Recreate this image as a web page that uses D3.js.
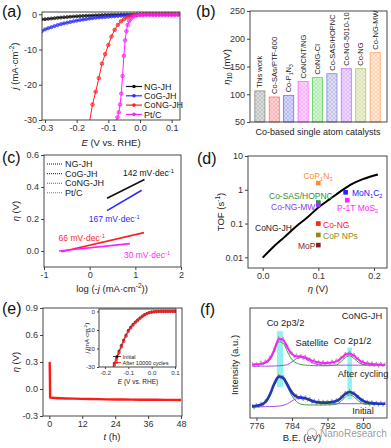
<!DOCTYPE html>
<meta charset="utf-8">
<style>
body { margin: 0; background: #fff; }
svg { font-family: "Liberation Sans", Arial, sans-serif; }
.axis path.domain { display: none; }
.axis line { stroke: #444; }
.axis text { fill: #333; }
</style>
<body>
<script src="https://d3js.org/d3.v7.min.js"></script>
<script>
// ---------- (a) LSV polarization curves ----------
var lsvE = [-0.31,-0.30,-0.29,-0.28,-0.27,-0.26,-0.25,-0.24,-0.23,-0.22,-0.21,-0.20,-0.19,-0.18,-0.17,-0.16,-0.15,-0.14,-0.13,-0.12,-0.11,-0.10,-0.09,-0.08,-0.07,-0.06,-0.05,-0.04,-0.03,-0.02,-0.01,0.00,0.01,0.02,0.03,0.04,0.05,0.06,0.07,0.08,0.09,0.10,0.11,0.12];
var jNG = [-1.45,-1.4,-1.3,-1.2,-1.1,-1.0,-0.93,-0.85,-0.78,-0.7,-0.64,-0.58,-0.52,-0.47,-0.42,-0.38,-0.34,-0.3,-0.26,-0.23,-0.2,-0.17,-0.14,-0.12,-0.1,-0.08,-0.06,-0.05,-0.04,-0.03,-0.02,-0.01,0,0,0,0,0,0,0,0,0,0,0,0];
var jCoG = [-4.8,-4.3,-3.95,-3.65,-3.35,-3.05,-2.8,-2.58,-2.38,-2.18,-1.98,-1.8,-1.65,-1.5,-1.36,-1.22,-1.1,-1.0,-0.92,-0.84,-0.77,-0.7,-0.62,-0.55,-0.48,-0.41,-0.35,-0.28,-0.21,-0.15,-0.1,-0.06,-0.03,0,0,0,0,0,0,0,0,0,0,0];
var eCoNG = [-0.16,-0.15,-0.14,-0.13,-0.12,-0.11,-0.10,-0.09,-0.08,-0.07,-0.06,-0.05,-0.04,-0.03,-0.02,-0.01,0.00,0.01,0.02,0.03,0.04,0.05,0.06,0.07,0.08,0.09,0.10,0.11,0.12];
var jCoNG = [-30.8,-25.6,-22,-18.1,-14,-11.3,-8.7,-6.3,-4.4,-3.0,-2.0,-1.35,-0.85,-0.5,-0.28,-0.14,-0.07,-0.03,0,0,0,0,0,0,0,0,0,0,0];
var ePt = [-0.075,-0.071,-0.067,-0.063,-0.059,-0.055,-0.051,-0.047,-0.043,-0.039,-0.034,-0.028,-0.02,-0.01,0.00,0.01,0.02,0.03,0.04,0.05,0.06,0.07,0.08,0.09,0.10,0.11,0.12];
var jPt = [-30.5,-29.2,-27.8,-25.6,-22.5,-17.5,-11.8,-7.4,-4.8,-3.0,-1.9,-1.2,-0.65,-0.35,-0.2,-0.15,-0.15,-0.15,-0.15,-0.15,-0.15,-0.15,-0.15,-0.15,-0.15,-0.15,-0.15];
var lsvNames = ["NG-JH", "CoG-JH", "CoNG-JH", "Pt/C"];
var lsvColors = ["#111111", "#2b2bff", "#ff1f1f", "#ff1fff"];

// ---------- (b) overpotential at 10 mA cm-2 ----------
var catalysts = ["This work", "Co-SAs/PTF-600", "Co-P1N3", "CoNCNT/NG", "CoNG-Cl", "Co-SAS/HOPNC", "Co-NG-5010-10", "Co-NG", "Co-NG-MW"];
var eta10 = [106, 95, 98, 123, 130, 137, 146, 146, 175];
var barStroke = ["#8a8a8a", "#ff7373", "#7373ff", "#ff66ff", "#5fd35f", "#8585d6", "#c070ff", "#b2c070", "#ffa366"];
var barFill = ["#dcdcdc", "#fbd3d3", "#d8d8fb", "#fbd3fb", "#d5f5d5", "#dedef5", "#eed9ff", "#eff1d9", "#ffe8d6"];

// ---------- (c) Tafel slopes ----------
var tafelLogJ = [[0.38, 1.2], [0.38, 1.14], [-0.62, 1.19], [-0.67, 0.88]];
var tafelEta = [[0.33, 0.447], [0.252, 0.38], [-0.005, 0.115], [0.0, 0.046]];
var tafelSlopes = [142, 167, 66, 30];

// ---------- (d) TOF ----------
var tofEta = [0, 0.02, 0.04, 0.06, 0.08, 0.10, 0.12, 0.14, 0.16, 0.18, 0.207];
var tofVal = [0.0098, 0.021, 0.041, 0.082, 0.15, 0.30, 0.52, 0.9, 1.47, 2.07, 2.85];
var refNames = ["CoP1N3", "Co-SAS/HOPNC", "Co-NG-MW", "MoN1C2", "P-1T MoS2", "Co-NG", "CoP NPs", "MoP"];
var refEta = [0.1, 0.1, 0.1, 0.149, 0.152, 0.1, 0.1, 0.1];
var refTof = [1.58, 0.42, 0.355, 0.84, 0.49, 0.1, 0.046, 0.023];
var refColors = ["#ff8c2a", "#2f8f2f", "#8a3cf0", "#2020ff", "#ff1fff", "#ff2020", "#8c8c16", "#8a1c1c"];

// ---------- (e) stability ----------
var stabT = [0, 0.15, 0.3, 1, 2, 4, 6, 9, 12, 15, 18, 21, 24, 27, 30, 33, 36, 39, 42, 45, 48];
var stabEta = [0.3, 0.29, -0.095, -0.098, -0.1, -0.103, -0.105, -0.107, -0.11, -0.111, -0.113, -0.115, -0.117, -0.117, -0.118, -0.119, -0.12, -0.12, -0.121, -0.121, -0.122];
var insetE = [-0.17,-0.16,-0.15,-0.14,-0.13,-0.12,-0.11,-0.10,-0.09,-0.08,-0.07,-0.06,-0.05,-0.04,-0.03,-0.02,-0.01,0.00,0.01,0.02,0.03,0.04,0.05,0.06,0.07,0.08,0.09,0.10];
var insetInit = [-32,-28,-24.8,-21.5,-18.4,-15.5,-12.8,-10.2,-8.5,-7.0,-5.7,-4.6,-3.5,-2.5,-1.7,-1.1,-0.6,-0.35,-0.18,-0.08,-0.03,0,0,0,0,0,0,0];
var insetAfter = [-33,-29,-25.8,-22.4,-19.2,-16.2,-13.4,-10.8,-9.0,-7.4,-6.0,-4.9,-3.8,-2.7,-1.85,-1.2,-0.65,-0.38,-0.2,-0.09,-0.04,0,0,0,0,0,0,0];

// ---------- (f) XPS Co 2p ----------
var fitE = [775,776,777,778,779,780,781,782,783,784,785,786,787,788,789,790,791,792,793,794,795,796,797,798,799,800,801,802,803,804,805];
var fitAfter = [48.6,48.8,49.2,50.5,54,62,71.5,71,64,58,56,56,55,53,51.5,50.5,50,50,50.5,51.5,54,57.5,58.5,56.5,53,50.5,49.5,49,48.7,48.5,48.3];
var greenAfter = [48.5,48.6,48.9,49.8,52.5,60,69,68,60,53,50,48.6,48,47.8,47.6,47.5,47.5,47.5,47.7,48.2,51,55,56.5,54,50.5,48.7,48.2,48,48,48,48];
var purpleAfter = [47,47,47.1,47.1,47.2,47.3,47.5,47.9,48.5,51,54,55,54,51.5,49.5,48.5,48.1,48,48,48,48,48,48,48,48,48,48,48,48,48,48];
var fitInit = [10.6,11,12,14.5,21,31,37.5,36.5,30,23,19.5,18.5,18,16.5,15,14.3,14,14,14.5,15.5,18,22,23.6,22,18.5,15.5,14,13.5,13.2,13,13];
var greenInit = [10.5,10.8,11.5,14,20.5,30.5,37,35.5,28,20,15,12.5,12,11.9,11.8,11.8,11.8,11.9,12.1,12.5,15,19,21,19,15.5,13,12.5,12.4,12.3,12.3,12.3];
var purpleInit = [10,10.1,10.2,10.3,10.4,10.5,10.8,11.5,13,15.5,17.5,18,17.5,15.5,14,13.2,13,13,13,13,13,13,13,13,13,13,13,13,13,13,13];
var rawE = [775,775.5,776,776.5,777,777.5,778,778.5,779,779.5,780,780.5,781,781.5,782,782.5,783,783.5,784,784.5,785,785.5,786,786.5,787,787.5,788,788.5,789,789.5,790,790.5,791,791.5,792,792.5,793,793.5,794,794.5,795,795.5,796,796.5,797,797.5,798,798.5,799,799.5,800,800.5,801,801.5,802,802.5,803,803.5,804,804.5,805];
var rawAfter = [51,46.5,50.5,47,52,48,53,50,56.5,56,64.5,65,74,70,73.5,65,66,58.5,60.5,54.5,58.5,53.5,58,53,57.5,51.5,55,49.5,54,48.5,52.5,48,52.5,47.5,52,48,53,49,54,50.5,56.5,54,60,56,61,55.5,59,52.5,55.5,49,53,47.5,52,47,51.5,46.5,51,46,51,46.5,50.5];
var rawInit = [13,8,13.5,9,14.5,10.5,17,15,23.5,24,33.5,32.5,40,35,39,31,32.5,24,25.5,18.5,22,16.5,21,15.5,20.5,15,19,13,17.5,12,17,11.5,16.5,12,16.5,11.5,17,12.5,18,14.5,20.5,18,24.5,20.5,26,20.5,24.5,18,21,14.5,18,12,16.5,11,16,11,15.5,10.5,15.5,10.5,15];
var highlightE = [[780.6, 782.0], [796.5, 797.5]];
var highlightV = [[28, 79], [17, 64]];

var svg = d3.select("body").append("svg")
    .attr("width", 391)
    .attr("height", 448);
var defs = svg.append("defs");

function fmt(spec) {
  var f = d3.format(spec);
  return function(d) { return f(d).replace("\u2212", "-"); };
}

// text with italic / sup / sub pieces
function rich(t, parts, fs) {
  var shift = 0;
  parts.forEach(function(p) {
    var s = t.append("tspan").text(p[0]);
    var want = p[1] == "sup" ? -0.38 * fs : p[1] == "sub" ? 0.22 * fs : 0;
    s.attr("dy", want - shift);
    shift = want;
    if (p[1] == "sup" || p[1] == "sub") s.style("font-size", (fs * 0.68) + "px");
    if (p[1] == "i") s.style("font-style", "italic");
  });
  return t;
}

function label(x, y, parts, fs, opt) {
  opt = opt || {};
  var t = svg.append("text")
      .attr("font-size", fs)
      .attr("fill", opt.color || "#222")
      .attr("text-anchor", opt.anchor || "start");
  if (opt.rotate) t.attr("transform", "translate(" + x + "," + y + ")rotate(-90)");
  else t.attr("x", x).attr("y", y);
  return rich(t, typeof parts == "string" ? [[parts, ""]] : parts, fs);
}

function clip(id, b) {
  defs.append("clipPath").attr("id", id).append("rect")
      .attr("x", b.x0).attr("y", b.y0)
      .attr("width", b.x1 - b.x0).attr("height", b.y1 - b.y0);
  return svg.append("g").attr("clip-path", "url(#" + id + ")");
}

function axes(b, x, y, o) {
  var fs = o.fs || 9;
  if (o.xt) svg.append("g").attr("class", "axis")
      .attr("transform", "translate(0," + b.y1 + ")")
      .call(d3.axisBottom(x).tickValues(o.xt).tickFormat(o.xf).tickSize(o.ts || 3).tickPadding(2))
      .attr("font-size", fs).attr("font-family", null);
  if (o.yt) svg.append("g").attr("class", "axis")
      .attr("transform", "translate(" + b.x0 + ",0)")
      .call(d3.axisLeft(y).tickValues(o.yt).tickFormat(o.yf).tickSize(o.ts || 3).tickPadding(2))
      .attr("font-size", fs).attr("font-family", null);
  svg.append("rect")
      .attr("x", b.x0).attr("y", b.y0)
      .attr("width", b.x1 - b.x0).attr("height", b.y1 - b.y0)
      .attr("fill", "none").attr("stroke", "#333").attr("stroke-width", 0.9);
}

function markerLine(g, xs, ys, x, y, color, r, w) {
  var pts = xs.map(function(v, i) { return [x(v), y(ys[i])]; });
  g.append("path").attr("d", d3.line()(pts))
      .attr("fill", "none").attr("stroke", color).attr("stroke-width", w || 1);
  g.selectAll(null).data(pts).enter().append("circle")
      .attr("cx", function(d) { return d[0]; })
      .attr("cy", function(d) { return d[1]; })
      .attr("r", r)
      .attr("fill", color).attr("fill-opacity", 0.55)
      .attr("stroke", color).attr("stroke-width", 0.7);
}

var panelLetters = [["(a)", 2, 17], ["(b)", 196, 17], ["(c)", 2, 163], ["(d)", 197, 164], ["(e)", 2, 314], ["(f)", 200, 315]];
panelLetters.forEach(function(p) {
  svg.append("text").attr("x", p[1]).attr("y", p[2]).attr("font-size", 16).attr("fill", "#111").text(p[0]);
});

// ================= (a) =================
var bA = {x0: 42, x1: 180, y0: 12, y1: 120};
var xA = d3.scaleLinear().domain([-0.3095, 0.1263]).range([bA.x0, bA.x1]);
var yA = d3.scaleLinear().domain([-30, 0.65]).range([bA.y1, bA.y0]);
var gA = clip("clipA", bA);
markerLine(gA, lsvE, jNG, xA, yA, lsvColors[0], 1.5);
markerLine(gA, lsvE, jCoG, xA, yA, lsvColors[1], 1.6);
markerLine(gA, eCoNG, jCoNG, xA, yA, lsvColors[2], 1.8);
markerLine(gA, ePt, jPt, xA, yA, lsvColors[3], 1.8);
axes(bA, xA, yA, {xt: [-0.3, -0.2, -0.1, 0, 0.1], xf: fmt(".1f"), yt: [0, -10, -20, -30], yf: fmt("d")});
lsvNames.forEach(function(n, i) {
  var yy = 86.5 + i * 9.3;
  svg.append("line").attr("x1", 126).attr("x2", 142).attr("y1", yy).attr("y2", yy)
      .attr("stroke", lsvColors[i]).attr("stroke-width", 1.2);
  svg.append("circle").attr("cx", 134).attr("cy", yy).attr("r", 1.8).attr("fill", lsvColors[i]);
  label(144, yy + 3.2, n, 9);
});
label(18, 66, [["j", "i"], [" (mA\u00b7cm", ""], ["-2", "sup"], [")", ""]], 9.5, {rotate: true, anchor: "middle"});
label(111, 146, [["E", "i"], [" (V vs. RHE)", ""]], 9.5, {anchor: "middle"});

// ================= (b) =================
var bB = {x0: 250, x1: 387, y0: 11, y1: 122};
var xB = d3.scaleBand().domain(catalysts).range([250.5, 384.5]).paddingInner(0.3).paddingOuter(0.3);
var yB = d3.scaleLinear().domain([50, 250]).range([bB.y1, bB.y0]);
catalysts.forEach(function(c, i) {
  var p = defs.append("pattern").attr("id", "hatch" + i)
      .attr("patternUnits", "userSpaceOnUse").attr("width", 4).attr("height", 4);
  p.append("rect").attr("width", 4).attr("height", 4).attr("fill", barFill[i]);
  p.append("path").attr("d", "M0,4L4,0M-1,1L1,-1M3,5L5,3M0,0L4,4")
      .attr("stroke", barStroke[i]).attr("stroke-width", 0.5).attr("stroke-opacity", 0.6);
});
svg.selectAll(".bar").data(catalysts).enter().append("rect")
    .attr("class", "bar")
    .attr("x", function(d) { return xB(d); })
    .attr("y", function(d, i) { return yB(eta10[i]); })
    .attr("width", xB.bandwidth())
    .attr("height", function(d, i) { return bB.y1 - yB(eta10[i]); })
    .attr("fill", function(d, i) { return "url(#hatch" + i + ")"; })
    .attr("stroke", function(d, i) { return barStroke[i]; })
    .attr("stroke-width", 0.8);
catalysts.forEach(function(c, i) {
  var parts = c == "Co-P1N3" ? [["Co-P", ""], ["1", "sub"], ["N", ""], ["3", "sub"]] : [[c, ""]];
  var t = label(xB(c) + xB.bandwidth() / 2, yB(eta10[i]) - 3, parts, 7.5, {rotate: true});
  t.select("tspan").attr("dy", "0.35em");
});
axes(bB, null, yB, {yt: [50, 100, 150, 200, 250], yf: fmt("d")});
label(230, 67, [["\u03b7", "i"], ["10", "sub"], [" (mV)", ""]], 9.5, {rotate: true, anchor: "middle"});
label(318, 135, "Co-based single atom catalysts", 9, {anchor: "middle"});

// ================= (c) =================
var bC = {x0: 44, x1: 181, y0: 155, y1: 267};
var xC = d3.scaleLinear().domain([-1, 2]).range([bC.x0, bC.x1]);
var yC = d3.scaleLinear().domain([-0.1, 0.6]).range([bC.y1, bC.y0]);
var gC = clip("clipC", bC);
tafelLogJ.forEach(function(xs, i) {
  var pts = xs.map(function(v, k) { return [xC(v), yC(tafelEta[i][k])]; });
  gC.append("path").attr("d", d3.line()(pts))
      .attr("stroke", lsvColors[i]).attr("stroke-width", 1.6).attr("fill", "none");
});
axes(bC, xC, yC, {xt: [-1, 0, 1, 2], xf: fmt("d"), yt: [0, 0.2, 0.4, 0.6], yf: fmt(".1f")});
lsvNames.forEach(function(n, i) {
  var yy = 164 + i * 9.6;
  svg.append("line").attr("x1", 47).attr("x2", 62).attr("y1", yy).attr("y2", yy)
      .attr("stroke", lsvColors[i]).attr("stroke-width", 1.1).attr("stroke-dasharray", "1,1");
  label(65, yy + 3.2, n, 9);
});
var slopeAt = [[0.73, 0.47], [-0.02, 0.18], [-0.68, 0.063], [0.75, -0.043]];
tafelSlopes.forEach(function(s, i) {
  label(xC(slopeAt[i][0]), yC(slopeAt[i][1]), [[s + " mV\u00b7dec", ""], ["-1", "sup"]], 8.5, {color: lsvColors[i]});
});
label(19, 211, [["\u03b7", "i"], [" (V)", ""]], 9.5, {rotate: true, anchor: "middle"});
label(112, 292, [["log (-", ""], ["j", "i"], [" (mA\u00b7cm", ""], ["-2", "sup"], ["))", ""]], 9.5, {anchor: "middle"});

// ================= (d) =================
var bD = {x0: 248, x1: 387, y0: 156, y1: 268};
var xD = d3.scaleLinear().domain([-0.0264, 0.2234]).range([bD.x0, bD.x1]);
var yD = d3.scaleLog().domain([0.00483, 10]).range([bD.y1, bD.y0]);
var gD = clip("clipD", bD);
gD.append("path")
    .attr("d", d3.line().curve(d3.curveMonotoneX)(tofEta.map(function(v, i) { return [xD(v), yD(tofVal[i])]; })))
    .attr("fill", "none").attr("stroke", "#000").attr("stroke-width", 2);
gD.selectAll(".sq").data(refNames).enter().append("rect")
    .attr("x", function(d, i) { return xD(refEta[i]) - 2.3; })
    .attr("y", function(d, i) { return yD(refTof[i]) - 2.3; })
    .attr("width", 4.6).attr("height", 4.6)
    .attr("fill", function(d, i) { return refColors[i]; });
axes(bD, xD, yD, {xt: [0, 0.1, 0.2], xf: fmt(".1f"), yt: [0.01, 0.1, 1, 10], yf: function(d) { return String(d); }});
var refLab = [
  [[["CoP", ""], ["1", "sub"], ["N", ""], ["3", "sub"]], 318, 179, "middle"],
  [[["Co-SAS/HOPNC", ""]], 269, 198.5, "start"],
  [[["Co-NG-MW", ""]], 271, 209.5, "start"],
  [[["MoN", ""], ["1", "sub"], ["C", ""], ["2", "sub"]], 352, 196, "start"],
  [[["P-1T MoS", ""], ["2", "sub"]], 337, 211, "start"],
  [[["Co-NG", ""]], 323, 227.5, "start"],
  [[["CoP NPs", ""]], 323, 239, "start"],
  [[["MoP", ""]], 298, 249, "start"]
];
refLab.forEach(function(r, i) { label(r[1], r[2], r[0], 8.5, {color: refColors[i], anchor: r[3]}); });
label(255, 230.5, "CoNG-JH", 8.5);
label(224, 212, [["TOF (s", ""], ["-1", "sup"], [")", ""]], 9.5, {rotate: true, anchor: "middle"});
label(318, 292, [["\u03b7", "i"], [" (V)", ""]], 9.5, {anchor: "middle"});

// ================= (e) =================
var bE = {x0: 43, x1: 182, y0: 308, y1: 416};
var xE = d3.scaleLinear().domain([-2.3, 48.35]).range([bE.x0, bE.x1]);
var yE = d3.scaleLinear().domain([-0.3, 0.9]).range([bE.y1, bE.y0]);
var gE = clip("clipE", bE);
gE.append("path")
    .attr("d", d3.line()(stabT.map(function(v, i) { return [xE(v), yE(stabEta[i])]; })))
    .attr("fill", "none").attr("stroke", "#ff1a1a").attr("stroke-width", 2.4);
axes(bE, xE, yE, {xt: [0, 12, 24, 36, 48], xf: fmt("d"), yt: [-0.3, 0, 0.3, 0.6, 0.9], yf: fmt(".1f")});
label(19, 362, [["\u03b7", "i"], [" (V)", ""]], 9.5, {rotate: true, anchor: "middle"});
label(112, 440, [["t", "i"], [" (h)", ""]], 9.5, {anchor: "middle"});

// inset
var bI = {x0: 99, x1: 176, y0: 309, y1: 367};
var xI = d3.scaleLinear().domain([-0.2257, 0.1043]).range([bI.x0, bI.x1]);
var yI = d3.scaleLinear().domain([-30, 1.3]).range([bI.y1, bI.y0]);
svg.append("rect").attr("x", bI.x0).attr("y", bI.y0).attr("width", bI.x1 - bI.x0).attr("height", bI.y1 - bI.y0).attr("fill", "#fff");
var gI = clip("clipI", bI);
markerLine(gI, insetE, insetInit, xI, yI, "#111", 1.1, 0.8);
markerLine(gI, insetE, insetAfter, xI, yI, "#ff2020", 1.3, 0.9);
axes(bI, xI, yI, {xt: [-0.2, -0.1, 0, 0.1], xf: fmt(".1f"), yt: [0, -10, -20, -30], yf: fmt("d"), fs: 6.2, ts: 2});
[["Initial", "#111"], ["After 10000 cycles", "#ff2020"]].forEach(function(l, i) {
  var yy = 356.5 + i * 6;
  svg.append("line").attr("x1", 113).attr("x2", 121).attr("y1", yy).attr("y2", yy).attr("stroke", l[1]).attr("stroke-width", 0.8);
  svg.append("circle").attr("cx", 117).attr("cy", yy).attr("r", 1.3).attr("fill", l[1]);
  label(122.5, yy + 2, l[0], 5.6, {color: "#222"});
});
label(138, 384, [["E", "i"], [" (V vs. RHE)", ""]], 6.5, {anchor: "middle"});
label(89, 338, [["j", "i"], [" (mA\u00b7cm", ""], ["-2", "sup"], [")", ""]], 6.2, {rotate: true, anchor: "middle"});

// ================= (f) =================
var bF = {x0: 250, x1: 387, y0: 308, y1: 418};
var xF = d3.scaleLinear().domain([774.54, 805.4]).range([bF.x0, bF.x1]);
var yF = d3.scaleLinear().domain([0, 100]).range([bF.y1, bF.y0]);
var gF = clip("clipF", bF);
highlightE.forEach(function(h, i) {
  gF.append("rect").attr("x", xF(h[0])).attr("width", xF(h[1]) - xF(h[0]))
      .attr("y", yF(highlightV[i][1])).attr("height", yF(highlightV[i][0]) - yF(highlightV[i][1]))
      .attr("fill", "#7eeeee").attr("fill-opacity", 0.85);
});
var lineF = d3.line().curve(d3.curveCatmullRom);
function xps(es, vs) { return es.map(function(e, i) { return [xF(e), yF(vs[i])]; }); }
function xpsPath(es, vs, color, w, curve) {
  gF.append("path").attr("d", (curve ? lineF : d3.line())(xps(es, vs)))
      .attr("fill", "none").attr("stroke", color).attr("stroke-width", w);
}
xpsPath(rawE, rawAfter, "#8a8a8a", 0.7);
xpsPath(rawE, rawInit, "#8a8a8a", 0.7);
xpsPath(fitE, greenAfter, "#3da03d", 1, true);
xpsPath(fitE, purpleAfter, "#a050e0", 1, true);
xpsPath(fitE, fitAfter, "#ff1fff", 2, true);
xpsPath(fitE, greenInit, "#3da03d", 1, true);
xpsPath(fitE, purpleInit, "#a050e0", 1, true);
xpsPath(fitE, fitInit, "#2626ff", 2.6, true);
xpsPath(fitE, fitInit, "#1c4a6e", 1.3, true);
axes(bF, xF, yF, {xt: [776, 784, 792, 800], xf: fmt("d")});
[["Co 2p3/2", 285.5, 326], ["Satellite", 312, 346], ["Co 2p1/2", 352.5, 344], ["CoNG-JH", 362, 319], ["After cycling", 363, 376.5], ["Initial", 363, 414]].forEach(function(t) {
  label(t[1], t[2], t[0], 9.3, {anchor: "middle"});
});
label(238, 365, "Intensity (a.u.)", 9.5, {rotate: true, anchor: "middle"});
label(302, 441, "B.E. (eV)", 9.5, {anchor: "middle"});
// watermark
svg.append("circle").attr("cx", 312).attr("cy", 433).attr("r", 4.5).attr("fill", "none").attr("stroke", "#aaa").attr("stroke-width", 1);
svg.append("text").attr("x", 320).attr("y", 437).attr("font-size", 10).attr("fill", "#777").attr("fill-opacity", 0.75).text("NanoResearch");
</script>
